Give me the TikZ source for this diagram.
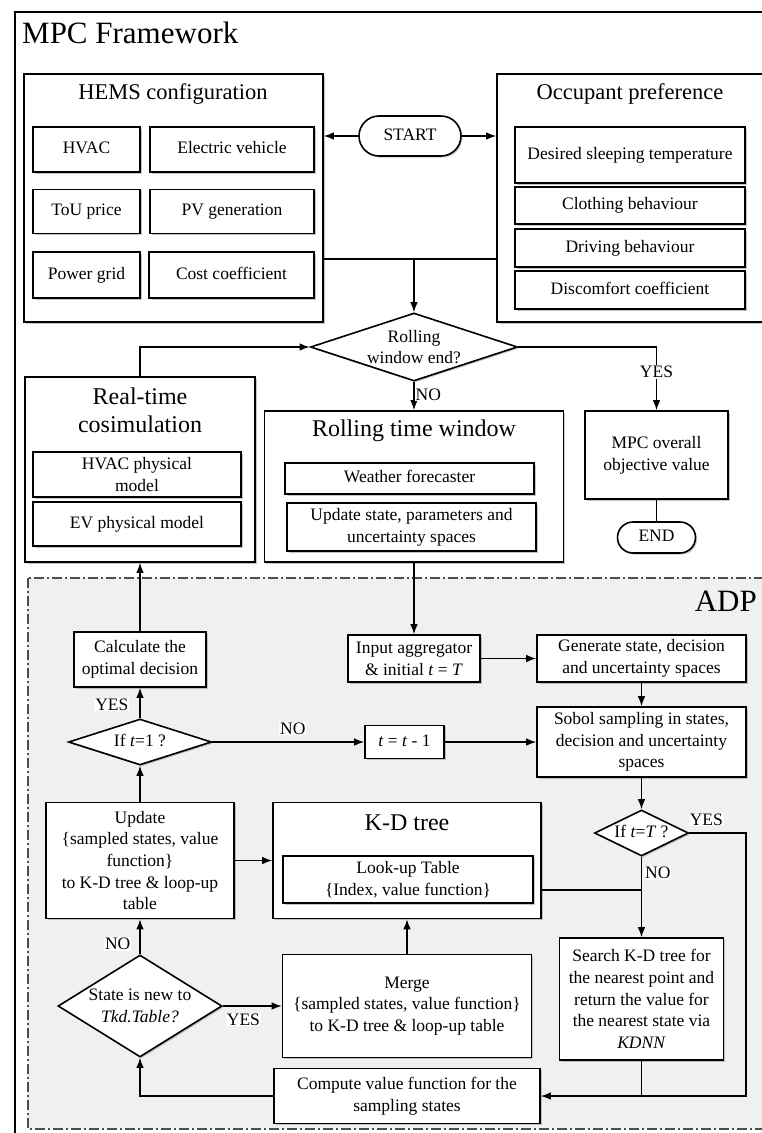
\documentclass[tikz,border=0pt]{standalone}
\usepackage{fontspec}
\setmainfont{Liberation Serif}
\usetikzlibrary{shapes.geometric,shapes.misc,arrows.meta,shadows}

\tikzset{
  box/.style={draw, line width=1.6pt, fill=white, align=center, inner sep=2pt,
    font=\fontsize{17.5}{21.7}\selectfont,
    drop shadow={shadow xshift=1.5pt, shadow yshift=-1.5pt, opacity=0.45}},
  oneline/.style={text height=12.5pt, text depth=3.8pt},
  group/.style={box},
  title/.style={align=center, inner sep=0pt, font=\fontsize{24}{28}\selectfont},
  term/.style={box, oneline, rounded rectangle},
  decision/.style={box, diamond, inner sep=-4pt},
  conn/.style={line width=1.3pt},
  arr/.style={conn, -{Latex[length=10pt,width=7.5pt]}},
  lbl/.style={fill=white, inner sep=1pt, font=\fontsize{17.5}{21}\selectfont},
}

\begin{document}
\begin{tikzpicture}[x=1pt,y=-1pt]
  \useasboundingbox (0,0) rectangle (762,1133);
  \clip (0,0) rectangle (762,1133);
  \draw[line width=1.3pt] (15,12) rectangle (790,1160);
  \node[title, anchor=west, font=\fontsize{31}{36}\selectfont] (mpc) at (22,33) {MPC Framework};

  \node[group, minimum width=299, minimum height=248] (hems) at (173.5,198) {};
  \node[title, font=\fontsize{22.5}{26}\selectfont] (hemst) at (173,94) {HEMS configuration};
  \node[box, oneline, minimum width=107, minimum height=45] (hvac) at (86.5,149.5) {HVAC};
  \node[box, oneline, minimum width=164, minimum height=45] (ev) at (232,149.5) {Electric vehicle};
  \node[box, oneline, minimum width=107, minimum height=44] (tou) at (86.5,211.5) {ToU price};
  \node[box, oneline, minimum width=164, minimum height=44] (pv) at (232,211.5) {PV generation};
  \node[box, oneline, minimum width=107, minimum height=46] (grid) at (86.5,275) {Power grid};
  \node[box, oneline, minimum width=165, minimum height=46] (cost) at (231.5,275) {Cost coefficient};

  \node[term, minimum width=106, minimum height=40] (start) at (410,136) {START};

  \node[group, minimum width=273, minimum height=248] (occ) at (633.5,198) {};
  \node[title, font=\fontsize{22.5}{26}\selectfont] (occt) at (630,94) {Occupant preference};
  \node[box, oneline, minimum width=230, minimum height=56] (sleep) at (630,155) {Desired sleeping temperature};
  \node[box, oneline, minimum width=230, minimum height=37] (cloth) at (630,205.5) {Clothing behaviour};
  \node[box, oneline, minimum width=230, minimum height=38] (drive) at (630,248) {Driving behaviour};
  \node[box, oneline, minimum width=230, minimum height=38] (disc) at (630,290) {Discomfort coefficient};

  \node[decision, aspect=3, minimum width=207, minimum height=68] (roll) at (414,347) {Rolling\\window end?};

  \node[group, minimum width=230, minimum height=185] (rt) at (140,469.5) {};
  \node[title] (rtt) at (140,410) {Real-time\\cosimulation};
  \node[box, minimum width=208, minimum height=45] (hvacm) at (137,474.5) {HVAC physical\\model};
  \node[box, oneline, minimum width=208, minimum height=44] (evm) at (137,524) {EV physical model};

  \node[group, minimum width=299, minimum height=151] (rtw) at (414,486.5) {};
  \node[title] (rtwt) at (414,431) {Rolling time window};
  \node[box, oneline, minimum width=249, minimum height=31] (weather) at (409.5,478.5) {Weather forecaster};
  \node[box, minimum width=249, minimum height=48] (update) at (411.5,527) {Update state, parameters and\\uncertainty spaces};

  \node[box, minimum width=143, minimum height=88] (mpcobj) at (656.5,455) {MPC overall\\objective value};
  \node[term, minimum width=82, minimum height=31] (endn) at (656.5,537.5) {END};

  \draw[black!70, line width=1.3pt, dash pattern=on 10pt off 3pt on 2pt off 3pt, fill=black!6] (28,578) rectangle (790,1129);
  \node[title, anchor=east, font=\fontsize{31}{36}\selectfont] (adp) at (757,601) {ADP};

  \node[box, minimum width=132, minimum height=55] (calc) at (140,659.5) {Calculate the\\optimal decision};
  \node[box, minimum width=132, minimum height=47] (inagg) at (414,658.5) {Input aggregator\\\& initial \textit{t} = \textit{T}};
  \node[box, minimum width=209, minimum height=47] (gen) at (641.5,658.5) {Generate state, decision\\and uncertainty spaces};
  \node[decision, oneline, aspect=3, minimum width=143, minimum height=46] (ift1) at (140,742) {If \textit{t}=1 ?};
  \node[box, oneline, minimum width=79, minimum height=33] (tm1) at (404.5,742) {\textit{t} = \textit{t} - 1};
  \node[box, minimum width=209, minimum height=70] (sobol) at (641.5,742) {Sobol sampling in states,\\decision and uncertainty\\spaces};

  \node[box, minimum width=188, minimum height=116] (upd) at (140,860.5) {Update\\\{sampled states, value\\function\}\\to K-D tree \& loop-up\\table};
  \node[group, minimum width=268, minimum height=116] (kd) at (407,860.5) {};
  \node[title] (kdt) at (407,823) {K-D tree};
  \node[box, minimum width=250, minimum height=47] (lut) at (408,879.5) {Look-up Table\\\{Index, value function\}};
  \node[decision, oneline, aspect=2, minimum width=94, minimum height=46] (iftT) at (641.5,833) {If \textit{t}=\textit{T} ?};

  \node[decision, aspect=1.6, minimum width=164, minimum height=102] (state) at (140,1006) {State is new to\\\textit{Tkd.Table?}};
  \node[box, minimum width=249, minimum height=103] (merge) at (407,1006) {Merge\\\{sampled states, value function\}\\to K-D tree \& loop-up table};
  \node[box, minimum width=164, minimum height=122] (search) at (641.5,999) {Search K-D tree for\\the nearest point and\\return the value for\\the nearest state via\\\textit{KDNN}};
  \node[box, minimum width=266, minimum height=55] (compute) at (407,1096) {Compute value function for the\\sampling states};

  \draw[arr] (start.west) -- (start.west -| hems.east);
  \draw[arr] (start.east) -- (start.east -| occ.west);
  \coordinate (j1) at (414,259);
  \draw[conn] (j1 -| hems.east) -- (j1 -| occ.west);
  \draw[arr] (j1) -- (roll.north);
  \draw[arr] (rt.north) |- (roll.west);
  \draw[arr] (roll.east) -| node[lbl, pos=0.7] {YES} (mpcobj.north);
  \draw[arr] (roll.south) -- node[lbl, right=0pt, pos=0.45] {NO} (rtw.north);
  \draw[conn] (mpcobj.south) -- (endn.north);

  \draw[arr] (rtw.south) -- (inagg.north);
  \draw[arr] (calc.north) -- (rt.south);
  \draw[arr] (inagg.east) -- (gen.west);
  \draw[arr] (gen.south) -- (sobol.north);
  \draw[arr] (sobol.south) -- (iftT.north);
  \draw[arr] (ift1.north) -- node[lbl, left=10pt, pos=0.45] {YES} (calc.south);
  \draw[arr] (ift1.east) -- node[lbl, above=6pt, pos=0.53] {NO} (tm1.west);
  \draw[arr] (tm1.east) -- (sobol.west);
  \draw[arr] (upd.north) -- (ift1.south);
  \draw[arr] (upd.east) -- (upd.east -| kd.west);
  \coordinate (r1) at (746,1096);
  \draw[arr] (iftT.east) -| node[lbl, above=6pt, pos=0.15] {YES} (r1) -- (compute.east);
  \draw[arr] (iftT.south) -- node[lbl, right=2pt, pos=0.2] {NO} (search.north);
  \coordinate (j2) at (641.5,890);
  \draw[conn] (j2 -| kd.east) -- (j2);
  \draw[arr] (merge.north) -- (kd.south);
  \draw[arr] (state.east) -- node[lbl, below=6pt, pos=0.35] {YES} (merge.west);
  \draw[arr] (state.north) -- node[lbl, left=8pt, pos=0.3] {NO} (upd.south);
  \draw[arr] (compute.west) -| (state.south);
  \draw[conn] (search.south) -- (search.south |- compute.east);
\end{tikzpicture}
\end{document}
